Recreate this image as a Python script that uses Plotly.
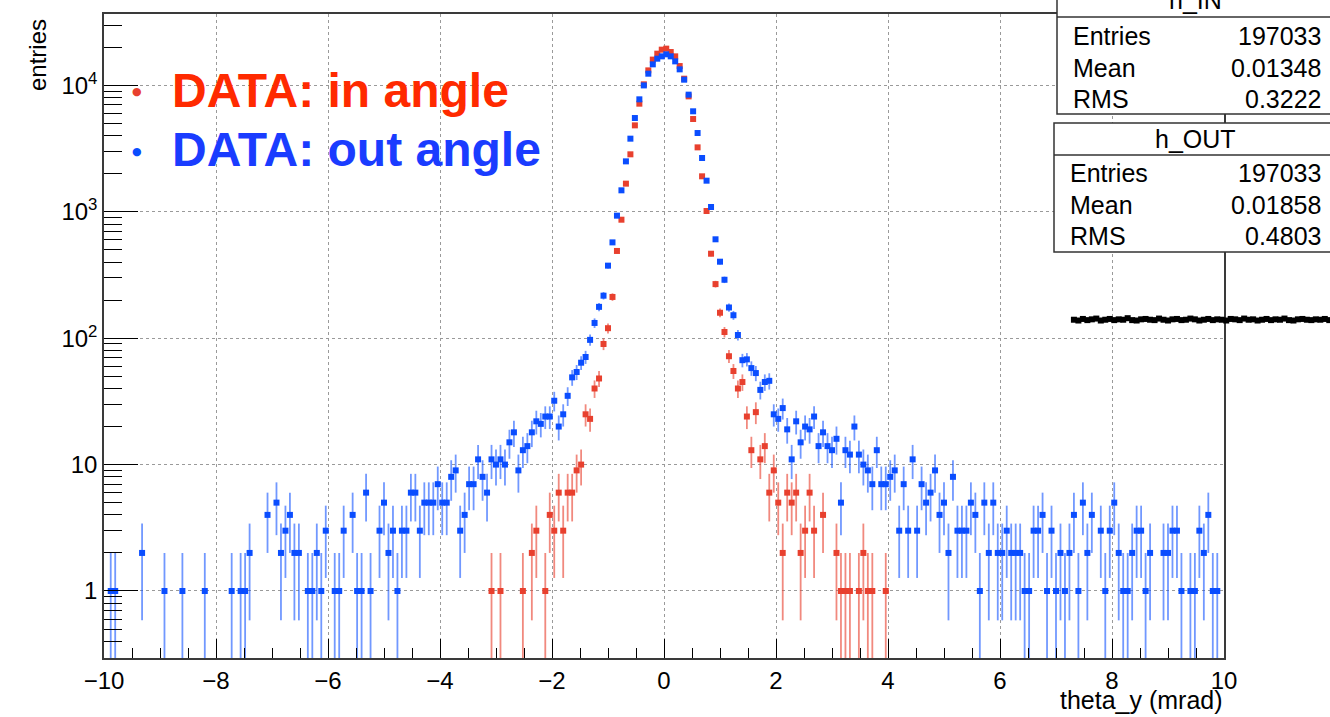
import numpy as np
import plotly.graph_objects as go

# ---------------------------------------------------------------- binning
X_MIN, X_MAX, N_BINS = -10.0, 10.0, 250
bin_width = (X_MAX - X_MIN) / N_BINS
bin_centers = X_MIN + bin_width * (np.arange(N_BINS) + 0.5)

# ---------------------------------------------------------------- histogram contents (entries per bin)
h_in_counts = [
    0, 0, 0, 0, 0, 0, 0, 0, 0, 0, 0, 0, 0, 0, 0, 0, 0, 0, 0, 0, 0, 0, 0, 0, 0,
    0, 0, 0, 0, 0, 0, 0, 0, 0, 0, 0, 0, 0, 0, 0, 0, 0, 0, 0, 0, 0, 0, 0, 0, 0,
    0, 0, 0, 0, 0, 0, 0, 0, 0, 0, 0, 0, 0, 0, 0, 0, 0, 0, 0, 0, 0, 0, 0, 0, 0,
    0, 0, 0, 0, 0, 0, 0, 0, 0, 0, 0, 1, 0, 1, 0, 0, 0, 0, 1, 0, 2, 3, 0, 1, 4,
    3, 6, 3, 6, 6, 9, 10, 25, 23, 40, 48, 90, 120, 212, 490, 866, 1670, 2850, 4830, 7170,
    10200, 13150, 16000, 17830, 19180,
    19540, 18370, 16980, 14230, 11300, 8190, 5420, 3235, 1909, 1015, 466, 268, 159, 112, 72,
    55, 40, 45, 24, 13, 26, 11, 14, 6, 9,
    5, 2, 6, 5, 6, 2, 3, 6, 3, 0, 4, 0, 0, 2, 1, 1, 1, 0, 1, 2, 1, 1, 0, 0, 1,
    0, 0, 0, 0, 0, 0, 0, 0, 0, 0, 0, 0, 0, 0, 0, 0, 0, 0, 0, 0, 0, 0, 0, 0, 0,
    0, 0, 0, 0, 0, 0, 0, 0, 0, 0, 0, 0, 0, 0, 0, 0, 0, 0, 0, 0, 0, 0, 0, 0, 0,
    0, 0, 0, 0, 0, 0, 0, 0, 0, 0, 0, 0, 0, 0, 0, 0, 0, 0, 0, 0, 0, 0, 0, 0, 0,
]

h_out_counts = [
    0, 1, 1, 0, 0, 0, 0, 0, 2, 0, 0, 0, 0, 1, 0, 0, 0, 1, 0, 0, 0, 0, 1, 0, 0,
    0, 0, 0, 1, 0, 1, 1, 2, 0, 0, 0, 4, 0, 5, 2, 3, 4, 2, 2, 0, 1, 1, 2, 1, 3,
    0, 1, 1, 3, 0, 4, 1, 1, 6, 1, 0, 3, 5, 2, 3, 1, 3, 3, 6, 6, 3, 5, 5, 5, 7,
    5, 5, 8, 9, 3, 4, 7, 7, 11, 8, 6, 11, 10, 11, 10, 15, 18, 9, 13, 14, 18, 22, 21, 24, 24,
    32, 20, 25, 35, 49, 54, 64, 71, 97, 132, 177, 217, 375, 573, 932, 1479, 2507, 3790, 5520, 7760,
    10000, 12380, 14680, 16270, 16980,
    17620, 16980, 15500, 13400, 11100, 8450, 6240, 4200, 2665, 1763, 1092, 606, 403, 290, 175,
    152, 106, 67, 68, 58, 53, 39, 45, 46, 25,
    23, 28, 19, 11, 22, 15, 20, 19, 24, 14, 18, 14, 13, 16, 5, 13, 12, 20, 12, 10, 9, 7, 13, 7, 7,
    8, 9, 3, 7, 3, 11, 3, 7, 5, 6, 9, 4, 5, 2, 8, 3, 3, 3, 5, 4, 1, 5, 2, 5, 2,
    2, 3, 2, 2, 2, 1, 1, 3, 3, 4, 1, 3, 1, 2, 1, 2, 4, 1, 5, 2, 4, 0, 3, 1, 3,
    5, 2, 1, 1, 2, 3, 3, 1, 2, 0, 0, 2, 2, 3, 3, 1, 0, 1, 1, 3, 2, 4, 1, 1, 0,
]

# third (black) histogram: flat band from 7.32 mrad, running on past the frame edge
band_x_start = 7.32
band_counts = [
    140, 138, 142, 139, 141, 143, 138, 140, 142, 139, 141, 140, 144, 139, 138, 141, 142, 140, 139, 143,
    140, 138, 141, 142, 139, 140, 143, 141, 138, 140, 142, 139, 141, 140, 138, 142, 141, 139, 143, 140,
    141, 138, 140, 142, 139, 141, 140, 143, 139, 138, 141, 142, 140, 139, 141, 140, 142, 139,
]

# statistics boxes
stats_in = {"name": "h_IN", "Entries": "197033", "Mean": "0.01348", "RMS": "0.3222"}
stats_out = {"name": "h_OUT", "Entries": "197033", "Mean": "0.01858", "RMS": "0.4803"}

# tick labels
x_tickvals = [-10, -8, -6, -4, -2, 0, 2, 4, 6, 8, 10]
y_tickvals = [1, 10, 100, 1000, 10000]
y_ticktext = ["1", "10", "10<sup>2</sup>", "10<sup>3</sup>", "10<sup>4</sup>"]
y_minor_vals = [m * 10 ** d for d in range(-1, 5) for m in range(2, 10)]

# ---------------------------------------------------------------- figure geometry
W, H = 1330, 717
L, R, T, B = 104, 0, 14, 59          # paper area runs to the right canvas edge
FRAME_RIGHT = 1224                   # right edge of the histogram frame (px)
PW, PH = W - L - R, H - T - B
frame_frac = (FRAME_RIGHT - L) / PW
x2_max = X_MIN + (X_MAX - X_MIN) / frame_frac   # same mrad/px scale up to the canvas edge
Y_RANGE = [float(np.log10(0.295)), 4.565]


def fx(px):
    return (px - L) / PW


def fy(py):
    return (H - B - py) / PH


FONT = "Liberation Sans, Arial, Helvetica, sans-serif"
RED_MK = "#e8402e"
BLUE_MK = "#0a4dff"
RED_ERR = "rgba(232,64,46,0.62)"
BLUE_ERR = "rgba(10,77,255,0.58)"


def hist_trace(counts, mk_color, err_color, name):
    c = np.asarray(counts, dtype=float)
    keep = c > 0
    x = bin_centers[keep]
    y = c[keep]
    err = np.sqrt(y)
    return go.Scatter(
        x=x, y=y, mode="markers", name=name, showlegend=False,
        xaxis="x", yaxis="y",
        marker=dict(symbol="square", size=6, color=mk_color, line=dict(width=0)),
        error_y=dict(type="data", array=err, arrayminus=err, color=err_color,
                     thickness=1.8, width=0),
        error_x=dict(type="constant", value=bin_width / 2, color=err_color,
                     thickness=1.8, width=0),
        hoverinfo="x+y",
    )


fig = go.Figure()
fig.add_trace(hist_trace(h_in_counts, RED_MK, RED_ERR, "h_IN"))
fig.add_trace(hist_trace(h_out_counts, BLUE_MK, BLUE_ERR, "h_OUT"))

# the band lives on a hidden axis pair that spans the full width, same scales
band_x = band_x_start + bin_width * np.arange(len(band_counts))
fig.add_trace(go.Scatter(
    x=band_x, y=band_counts, mode="markers", showlegend=False,
    xaxis="x2", yaxis="y2",
    marker=dict(symbol="square", size=6, color="black", line=dict(width=0)),
    hoverinfo="skip",
))

axis_common = dict(
    showline=True, mirror=True, linecolor="#3a3a3a", linewidth=1.5,
    showgrid=True, gridcolor="#9a9a9a", griddash="dot", gridwidth=1,
    zeroline=False, ticks="inside", tickcolor="black", tickwidth=1.2,
    tickfont=dict(family=FONT, size=24, color="black"),
)

fig.update_layout(
    width=W, height=H,
    margin=dict(l=L, r=R, t=T, b=B, pad=0, autoexpand=False),
    paper_bgcolor="white", plot_bgcolor="rgba(0,0,0,0)",
    font=dict(family=FONT, color="black"),
    xaxis=dict(
        domain=[0, frame_frac], anchor="y",
        range=[X_MIN, X_MAX], tickmode="array", tickvals=x_tickvals, ticklen=19,
        minor=dict(dtick=0.5, ticks="inside", ticklen=10, tickcolor="black",
                   tickwidth=1.2, showgrid=False),
        **axis_common,
    ),
    yaxis=dict(
        domain=[0, 1], anchor="x",
        type="log", range=Y_RANGE, tickmode="array",
        tickvals=y_tickvals, ticktext=y_ticktext, ticklen=34,
        minor=dict(tickmode="array", tickvals=y_minor_vals, ticks="inside", ticklen=18,
                   tickcolor="black", tickwidth=1.2, showgrid=False),
        **axis_common,
    ),
    xaxis2=dict(domain=[0, 1], anchor="y2", range=[X_MIN, x2_max], visible=False,
                showgrid=False, zeroline=False, fixedrange=True),
    yaxis2=dict(domain=[0, 1], anchor="x2", type="log", range=Y_RANGE, visible=False,
                showgrid=False, zeroline=False, fixedrange=True),
)

annotations = []
shapes = []

# axis titles
annotations.append(dict(
    text="entries", xref="paper", yref="paper", x=fx(37), y=fy(17),
    xanchor="center", yanchor="top", textangle=-90, showarrow=False,
    font=dict(family=FONT, size=24, color="black"),
))
annotations.append(dict(
    text="theta_y (mrad)", xref="paper", yref="paper", x=fx(1225), y=fy(716),
    xanchor="right", yanchor="bottom", showarrow=False,
    font=dict(family=FONT, size=25, color="black"),
))

# legend block
for label, ycen, txt_color, mk_color in [
    ("DATA: in angle", 91, "#ff2a00", RED_MK),
    ("DATA: out angle", 150, "#1a3cff", BLUE_MK),
]:
    annotations.append(dict(
        text="\u25cf", xref="paper", yref="paper", x=fx(137), y=fy(ycen + 1),
        xanchor="center", yanchor="middle", showarrow=False,
        font=dict(family="DejaVu Sans", size=11, color=mk_color),
    ))
    annotations.append(dict(
        text="<b>%s</b>" % label, xref="paper", yref="paper", x=fx(170), y=fy(ycen),
        xanchor="left", yanchor="middle", showarrow=False,
        font=dict(family=FONT, size=48, color=txt_color),
    ))


# statistics boxes
def stats_box(stats, left, top, sep, bottom, title_y, rows_y):
    shapes.append(dict(type="rect", xref="paper", yref="paper",
                       x0=fx(left), x1=fx(1340), y0=fy(bottom), y1=fy(top),
                       line=dict(color="#333333", width=1.5), fillcolor="white",
                       layer="above"))
    shapes.append(dict(type="line", xref="paper", yref="paper",
                       x0=fx(left), x1=fx(1340), y0=fy(sep), y1=fy(sep),
                       line=dict(color="#333333", width=1.5), layer="above"))
    annotations.append(dict(text=stats["name"], xref="paper", yref="paper",
                            x=fx(1195), y=fy(title_y), xanchor="center", yanchor="middle",
                            showarrow=False, font=dict(family=FONT, size=25, color="black")))
    for key, yy in zip(["Entries", "Mean", "RMS"], rows_y):
        annotations.append(dict(text=key, xref="paper", yref="paper",
                                x=fx(left + 14), y=fy(yy), xanchor="left", yanchor="middle",
                                showarrow=False, font=dict(family=FONT, size=25, color="black")))
        annotations.append(dict(text=stats[key], xref="paper", yref="paper",
                                x=fx(1323), y=fy(yy), xanchor="right", yanchor="middle",
                                showarrow=False, font=dict(family=FONT, size=25, color="black")))


stats_box(stats_in, 1057, -20, 17, 114, 0, [36, 68, 99])
stats_box(stats_out, 1054, 123, 155, 252, 139, [173, 205, 236])

fig.update_layout(annotations=annotations, shapes=shapes)

fig.write_html("out.html")
